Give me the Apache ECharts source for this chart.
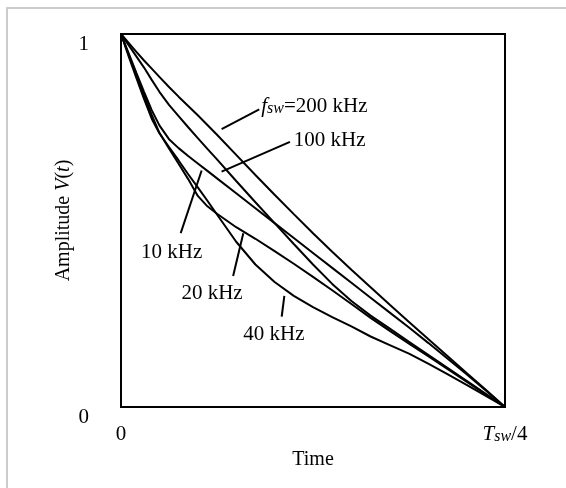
<!DOCTYPE html>
<html>
<head>
<meta charset="utf-8">
<script src="https://cdn.jsdelivr.net/npm/echarts@6/dist/echarts.min.js"></script>
<style>
  html, body { margin: 0; padding: 0; background: #fff; }
  #chart { width: 566px; height: 488px; }
</style>
</head>
<body>
<div id="chart"></div>
<script>
// Normalised time within a quarter switching period (0 .. Tsw/4)
const timeSteps = [0, 0.02, 0.04, 0.06, 0.08, 0.10, 0.125, 0.15, 0.175, 0.2, 0.225, 0.25, 0.3, 0.35, 0.4, 0.45, 0.5, 0.55, 0.6, 0.65, 0.7, 0.75, 0.8, 0.85, 0.9, 0.95, 1];

// Normalised amplitude V(t) for each switching frequency
const amp200k = [1, 0.976, 0.952, 0.929, 0.907, 0.885, 0.858, 0.832, 0.807, 0.782, 0.756, 0.730, 0.676, 0.622, 0.569, 0.517, 0.466, 0.416, 0.368, 0.321, 0.274, 0.228, 0.182, 0.137, 0.091, 0.046, 0];
const amp100k = [1, 0.970, 0.940, 0.910, 0.877, 0.845, 0.810, 0.780, 0.750, 0.721, 0.692, 0.664, 0.606, 0.549, 0.493, 0.437, 0.382, 0.330, 0.284, 0.245, 0.210, 0.175, 0.140, 0.105, 0.070, 0.035, 0];
const amp10k  = [1, 0.948, 0.896, 0.845, 0.796, 0.755, 0.718, 0.694, 0.673, 0.653, 0.633, 0.613, 0.573, 0.533, 0.493, 0.453, 0.413, 0.373, 0.333, 0.293, 0.253, 0.213, 0.172, 0.130, 0.088, 0.044, 0];
const amp20k  = [1, 0.945, 0.890, 0.836, 0.783, 0.735, 0.693, 0.652, 0.611, 0.566, 0.538, 0.518, 0.482, 0.451, 0.418, 0.384, 0.349, 0.313, 0.276, 0.239, 0.204, 0.170, 0.136, 0.102, 0.068, 0.034, 0];
const amp40k  = [1, 0.940, 0.882, 0.826, 0.773, 0.734, 0.697, 0.661, 0.624, 0.589, 0.553, 0.516, 0.443, 0.382, 0.335, 0.298, 0.268, 0.241, 0.216, 0.189, 0.166, 0.143, 0.116, 0.088, 0.059, 0.030, 0];

const yTicks = [0, 1];
const xTicks = [0, 1];

// Curve labels: text anchor and leader line (start, end), in data units
const curveNames = ['200 kHz', '100 kHz', '10 kHz', '20 kHz', '40 kHz'];
const curveData = [amp200k, amp100k, amp10k, amp20k, amp40k];
const labelTexts = ['{i|f}{s|sw}{n|=200 kHz}', '{n|100 kHz}', '{n|10 kHz}', '{n|20 kHz}', '{n|40 kHz}'];
const labelAnchors = [[0.365, 0.811], [0.450, 0.718], [0.132, 0.418], [0.237, 0.308], [0.398, 0.198]];
const labelAligns = ['left', 'left', 'center', 'center', 'center'];
const leaderFrom = [[0.360, 0.798], [0.440, 0.711], [0.1555, 0.466], [0.292, 0.351], [0.4185, 0.242]];
const leaderTo = [[0.262, 0.745], [0.262, 0.631], [0.210, 0.634], [0.3185, 0.466], [0.4253, 0.298]];

const FONT = '"Liberation Serif", "Times New Roman", serif';
const richStyles = {
  n: { fontFamily: FONT, fontSize: 21, color: '#000', lineHeight: 24, verticalAlign: 'bottom' },
  i: { fontFamily: FONT, fontSize: 21, fontStyle: 'italic', color: '#000', lineHeight: 24, verticalAlign: 'bottom' },
  s: { fontFamily: FONT, fontSize: 16, fontStyle: 'italic', color: '#000', lineHeight: 16, verticalAlign: 'bottom' }
};
const nameStyles = {
  n: { fontFamily: FONT, fontSize: 20, color: '#000' },
  i: { fontFamily: FONT, fontSize: 20, fontStyle: 'italic', color: '#000' }
};

const chart = echarts.init(document.getElementById('chart'), null, { renderer: 'canvas' });

const series = curveNames.map((name, k) => ({
  name: name,
  type: 'line',
  data: timeSteps.map((t, j) => [t, curveData[k][j]]),
  showSymbol: false,
  smooth: false,
  lineStyle: { color: '#000', width: 2 },
  silent: true,
  z: 3,
  markLine: {
    silent: true,
    symbol: 'none',
    animation: false,
    label: { show: false },
    lineStyle: { color: '#000', width: 2, type: 'solid' },
    data: [[{ coord: leaderFrom[k] }, { coord: leaderTo[k] }]]
  },
  markPoint: {
    silent: true,
    symbol: 'circle',
    symbolSize: 0,
    animation: false,
    label: {
      show: true,
      position: 'inside',
      align: labelAligns[k],
      verticalAlign: 'middle',
      formatter: labelTexts[k],
      rich: richStyles
    },
    data: [{ coord: labelAnchors[k] }]
  }
}));

chart.setOption({
  animation: false,
  backgroundColor: '#fff',
  graphic: [{
    type: 'polyline',
    shape: { points: [[7, 600], [7, 8], [600, 8]] },
    style: { stroke: '#cccccc', lineWidth: 2, fill: null },
    silent: true
  }],
  grid: {
    left: 121, right: 61, top: 34, bottom: 81,
    show: true, borderColor: '#000', borderWidth: 2, backgroundColor: 'transparent'
  },
  xAxis: {
    type: 'value', min: xTicks[0], max: xTicks[1], interval: 1,
    name: 'Time', nameLocation: 'middle', nameGap: 43, nameMoveOverlap: false,
    nameTextStyle: { fontFamily: FONT, fontSize: 20, color: '#000' },
    axisLine: { show: false }, axisTick: { show: false }, splitLine: { show: false },
    axisLabel: {
      margin: 14,
      formatter: v => v === 0 ? '{n|0}' : '{i|T}{s|sw}{n|/4}',
      rich: richStyles
    }
  },
  yAxis: {
    type: 'value', min: yTicks[0], max: yTicks[1], interval: 1,
    name: '{n|Amplitude }{i|V}{n|(}{i|t}{n|)}', nameLocation: 'middle', nameGap: 47, nameMoveOverlap: false,
    nameTextStyle: { rich: nameStyles },
    axisLine: { show: false }, axisTick: { show: false }, splitLine: { show: false },
    axisLabel: {
      margin: 32,
      verticalAlign: 'top',
      fontFamily: FONT, fontSize: 21, color: '#000'
    }
  },
  series: series
});
</script>
</body>
</html>
